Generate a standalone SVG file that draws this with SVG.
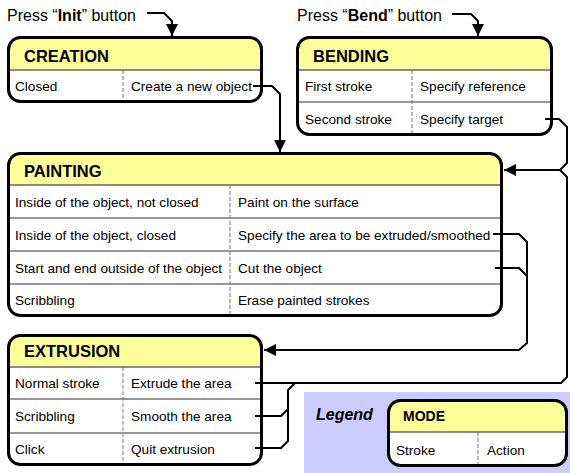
<svg xmlns="http://www.w3.org/2000/svg" width="570" height="473" viewBox="0 0 570 473">
<style>
text{font-family:"Liberation Sans",Arial,sans-serif;fill:#000}
.t{font-size:16.5px;font-weight:bold}
.r{font-size:13.6px}
.p{font-size:16px}
.body{fill:#fff;stroke:none}
.head{fill:#FFFF99;stroke:none}
.hl{stroke:#666;stroke-width:1.6;fill:none}
.rl{stroke:#333;stroke-width:1.2;fill:none}
.cd{stroke:#777;stroke-width:1;stroke-dasharray:4 2;fill:none}
.border{fill:none;stroke:#000;stroke-width:3}
.c{fill:none;stroke:#000;stroke-width:2;stroke-linejoin:round}
</style>
<defs>
<marker id="ah" markerUnits="userSpaceOnUse" markerWidth="12" markerHeight="12" refX="12" refY="6" orient="auto">
<path d="M0,0 L12,6 L0,12 Z" fill="#000"/>
</marker>
</defs>
<rect width="570" height="473" fill="#fff"/>

<g id="press-init">
<text class="p" x="7" y="20.5">Press “<tspan font-weight="bold">Init</tspan>” button</text>
</g>
<g id="press-bend">
<text class="p" x="297" y="20.5">Press “<tspan font-weight="bold">Bend</tspan>” button</text>
</g>

<g id="creation">
<rect class="body" x="8.5" y="37.5" width="253" height="64" rx="12"/>
<path class="head" d="M8.5,70 V49.5 A12,12 0 0 1 20.5,37.5 H249.5 A12,12 0 0 1 261.5,49.5 V70 Z"/>
<line class="hl" x1="8.5" y1="70" x2="261.5" y2="70"/>
<line class="cd" x1="123" y1="70" x2="123" y2="102"/>
<rect class="border" x="8.5" y="37.5" width="253" height="64" rx="12"/>
<text class="t" x="24" y="62">CREATION</text>
<text class="r" x="15" y="91">Closed</text>
<text class="r" x="131" y="91">Create a new object</text>
</g>

<g id="bending">
<rect class="body" x="297.5" y="37.5" width="254" height="97" rx="12"/>
<path class="head" d="M297.5,70 V49.5 A12,12 0 0 1 309.5,37.5 H539.5 A12,12 0 0 1 551.5,49.5 V70 Z"/>
<line class="hl" x1="297.5" y1="70" x2="551.5" y2="70"/>
<line class="rl" x1="297.5" y1="102" x2="551.5" y2="102"/>
<line class="cd" x1="412" y1="70" x2="412" y2="134"/>
<rect class="border" x="297.5" y="37.5" width="254" height="97" rx="12"/>
<text class="t" x="313" y="62">BENDING</text>
<text class="r" x="305" y="91">First stroke</text>
<text class="r" x="420" y="91">Specify reference</text>
<text class="r" x="305" y="124">Second stroke</text>
<text class="r" x="420" y="124">Specify target</text>
</g>

<g id="painting">
<rect class="body" x="8.5" y="153.5" width="493" height="162" rx="12"/>
<path class="head" d="M8.5,185 V165.5 A12,12 0 0 1 20.5,153.5 H489.5 A12,12 0 0 1 501.5,165.5 V185 Z"/>
<line class="hl" x1="8.5" y1="185" x2="501.5" y2="185"/>
<line class="rl" x1="8.5" y1="218" x2="501.5" y2="218"/>
<line class="rl" x1="8.5" y1="251" x2="501.5" y2="251"/>
<line class="rl" x1="8.5" y1="284" x2="501.5" y2="284"/>
<line class="cd" x1="230" y1="185" x2="230" y2="315"/>
<rect class="border" x="8.5" y="153.5" width="493" height="162" rx="12"/>
<text class="t" x="24" y="177">PAINTING</text>
<text class="r" x="15" y="206.5">Inside of the object, not closed</text>
<text class="r" x="238" y="206.5">Paint on the surface</text>
<text class="r" x="15" y="239.5">Inside of the object, closed</text>
<text class="r" x="238" y="239.5">Specify the area to be extruded/smoothed</text>
<text class="r" x="15" y="272.5">Start and end outside of the object</text>
<text class="r" x="238" y="272.5">Cut the object</text>
<text class="r" x="15" y="305">Scribbling</text>
<text class="r" x="238" y="305">Erase painted strokes</text>
</g>

<g id="extrusion">
<rect class="body" x="8.5" y="335.5" width="253" height="129" rx="12"/>
<path class="head" d="M8.5,367 V347.5 A12,12 0 0 1 20.5,335.5 H249.5 A12,12 0 0 1 261.5,347.5 V367 Z"/>
<line class="hl" x1="8.5" y1="367" x2="261.5" y2="367"/>
<line class="rl" x1="8.5" y1="399" x2="261.5" y2="399"/>
<line class="rl" x1="8.5" y1="433" x2="261.5" y2="433"/>
<line class="cd" x1="123" y1="367" x2="123" y2="464"/>
<rect class="border" x="8.5" y="335.5" width="253" height="129" rx="12"/>
<text class="t" x="24" y="357">EXTRUSION</text>
<text class="r" x="15" y="388">Normal stroke</text>
<text class="r" x="131" y="388">Extrude the area</text>
<text class="r" x="15" y="421">Scribbling</text>
<text class="r" x="131" y="421">Smooth the area</text>
<text class="r" x="15" y="454">Click</text>
<text class="r" x="131" y="454">Quit extrusion</text>
</g>

<g id="legend">
<rect x="304" y="392" width="266" height="81" fill="#CCCCFF"/>
<text x="316" y="420" font-size="16" font-weight="bold" font-style="italic">Legend</text>
<g id="mode">
<rect class="body" x="388.5" y="400.5" width="178" height="65" rx="12"/>
<path class="head" d="M388.5,432 V412.5 A12,12 0 0 1 400.5,400.5 H554.5 A12,12 0 0 1 566.5,412.5 V432 Z"/>
<line class="hl" x1="388.5" y1="432" x2="566.5" y2="432"/>
<line class="cd" x1="478" y1="432" x2="478" y2="464"/>
<rect class="border" x="388.5" y="400.5" width="178" height="65" rx="12"/>
<text x="403" y="421" font-size="14" font-weight="bold">MODE</text>
<text class="r" x="396" y="455">Stroke</text>
<text class="r" x="487" y="455">Action</text>
</g>
</g>

<g id="connectors">
<path class="c" d="M147,13 H164 L172,21 V36" marker-end="url(#ah)"/>
<path class="c" d="M452,14 H471 L478,21 V36" marker-end="url(#ah)"/>
<path class="c" d="M253,86 H272 L280,94 V152" marker-end="url(#ah)"/>
<path class="c" d="M545,119 H559 L567,127 V163 L560,170 H504" marker-end="url(#ah)"/>
<path class="c" d="M255,383 H561 L567,377 V177 L560,170"/>
<path class="c" d="M255,416 H281 L288,409 V390 L295,383"/>
<path class="c" d="M255,448 H281 L288,441 V409"/>
<path class="c" d="M493,234 H519 L527,242 V343 L519,350 H264" marker-end="url(#ah)"/>
<path class="c" d="M495,268 H519 L527,276"/>
</g>
</svg>
